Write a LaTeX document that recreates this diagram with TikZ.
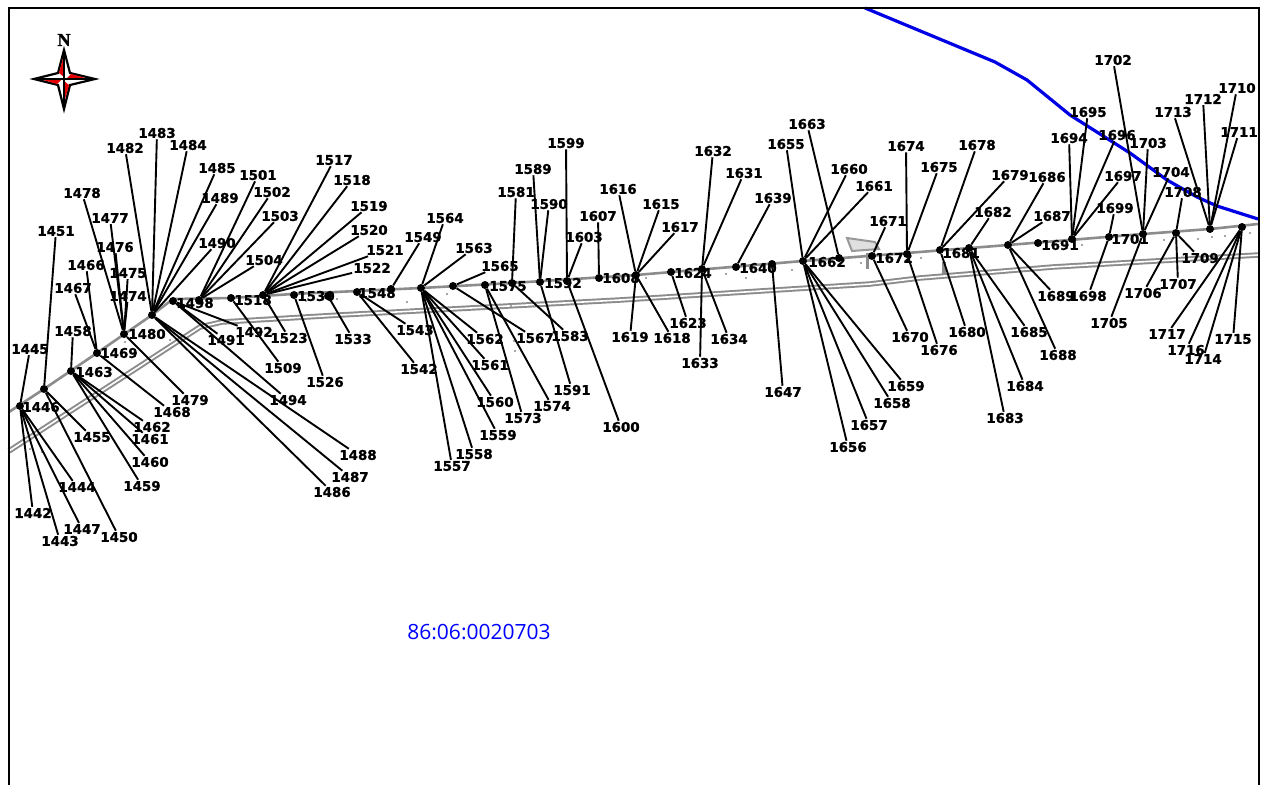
\documentclass[tikz,border=0pt]{standalone}
\usepackage{fontspec}
\setmainfont{DejaVu Sans}[BoldFeatures={FakeBold=1.2}]
\newfontfamily\parcelfont{Open Sans}
\newfontfamily\northfont{Liberation Serif}[BoldFeatures={FakeBold=1.5}]
\colorlet{roadc}{black!45}
\colorlet{buildc}{black!12}
\colorlet{riverc}{blue!90!black}
\colorlet{starc}{red!90!black}
\tikzset{
  lab/.style={font=\bfseries\fontsize{13.4}{14}\selectfont,inner sep=1pt,text=black},
  pointdot/.style={shape=circle,fill=black,minimum size=8pt,inner sep=0pt},
  leader/.style={draw=black,line width=1.9pt},
  speck/.style={fill=black!35,shape=rectangle,minimum size=2.5pt,inner sep=0pt}
}
\begin{document}
\begin{tikzpicture}[x=1pt,y=-1pt]
\useasboundingbox (0,0) rectangle (1266,785);
\fill[white] (0,0) rectangle (1266,785);

\draw[roadc,line width=5.5pt] (9,451) -- (140,366) -- (200,327) -- (222,322) -- (340,315) -- (620,300) -- (870,284) -- (920,278) -- (1053,267) -- (1258,255);
\draw[white,line width=1.6pt] (9,451) -- (140,366) -- (200,327) -- (222,322) -- (340,315) -- (620,300) -- (870,284) -- (920,278) -- (1053,267) -- (1258,255);
\draw[roadc,line width=2.6pt] (9,412) -- (44,389) -- (97,353) -- (152,315) -- (173,299) -- (231,298) -- (293,294) -- (421,288) -- (512,283) -- (636,275) -- (803,261) -- (907,253) -- (1008,245) -- (1143,234) -- (1210,229) -- (1258,224);
\draw[black!40,line width=2pt,fill=buildc] (847,238) -- (875,242) -- (879,249) -- (852,251) -- cycle;
\draw[roadc,line width=3pt] (867,253) -- (867,269);
\draw[roadc,line width=3.5pt] (944,262) -- (944,275);
\node[speck] at (170,340) {}; \node[speck] at (125,342) {}; \node[speck] at (306,301) {}; \node[speck] at (337,299) {};
\node[speck] at (407,302) {}; \node[speck] at (408,310) {}; \node[speck] at (447,294) {}; \node[speck] at (511,306) {};
\node[speck] at (514,341) {}; \node[speck] at (515,351) {}; \node[speck] at (646,278) {}; \node[speck] at (726,274) {};
\node[speck] at (746,278) {}; \node[speck] at (792,270) {}; \node[speck] at (861,263) {}; \node[speck] at (921,258) {};
\node[speck] at (1082,245) {}; \node[speck] at (1164,240) {}; \node[speck] at (1198,239) {}; \node[speck] at (1212,237) {};
\node[speck] at (1225,236) {}; \node[speck] at (1250,233) {}; \node[speck] at (30,449) {}; \node[speck] at (42,452) {};

\draw[riverc,line width=3.2pt] (865,8) -- (995,62) -- (1027,80) -- (1070,115) -- (1130,153) -- (1167,180) -- (1197,197) -- (1217,206) -- (1258,219);
\draw[black,line width=1.4pt] (9,785) -- (9,8) -- (1259,8) -- (1259,785);

\node[pointdot] (p1446) at (20,406) {};
\node[pointdot] (d44) at (44,389) {};
\node[pointdot] (p1463) at (71,371) {};
\node[pointdot] (p1469) at (97,353) {};
\node[pointdot] (p1480) at (124,334) {};
\node[pointdot] (d152) at (152,315) {};
\node[pointdot] (p1498) at (173,301) {};
\node[pointdot] (d199) at (199,300) {};
\node[pointdot] (p1518) at (231,298) {};
\node[pointdot] (d263) at (263,295) {};
\node[pointdot] (p1530) at (294,295) {};
\node[pointdot] (d328) at (328,296) {};
\node[pointdot] (p1548) at (357,292) {};
\node[pointdot] (d391) at (391,289) {};
\node[pointdot] (d421) at (421,288) {};
\node[pointdot] (d453) at (453,286) {};
\node[pointdot] (p1575) at (485,285) {};
\node[pointdot] (d512) at (512,283) {};
\node[pointdot] (p1592) at (540,282) {};
\node[pointdot] (d567) at (567,281) {};
\node[pointdot] (p1608) at (599,278) {};
\node[pointdot] (d636) at (636,275) {};
\node[pointdot] (p1624) at (671,272) {};
\node[pointdot] (d702) at (702,269) {};
\node[pointdot] (p1640) at (736,267) {};
\node[pointdot] (d772) at (772,264) {};
\node[pointdot] (p1662) at (803,261) {};
\node[pointdot] (d838) at (839,258) {};
\node[pointdot] (p1672) at (872,256) {};
\node[pointdot] (d907) at (907,254) {};
\node[pointdot] (p1681) at (940,250) {};
\node[pointdot] (d969) at (969,248) {};
\node[pointdot] (d1008) at (1008,245) {};
\node[pointdot] (p1691) at (1038,243) {};
\node[pointdot] (d1072) at (1072,239) {};
\node[pointdot] (p1701) at (1109,237) {};
\node[pointdot] (d1143) at (1143,234) {};
\node[pointdot] (d1176) at (1176,233) {};
\node[pointdot] (d1210) at (1210,229) {};
\node[pointdot] (d1242) at (1242,227) {};

\node[lab] at (41,407) {1446};
\node[lab] at (94,372) {1463};
\node[lab] at (119,353) {1469};
\node[lab] at (147,334) {1480};
\node[lab] at (195,303) {1498};
\node[lab] at (253,300) {1518};
\node[lab] at (316,296) {1530};
\node[lab] at (377,293) {1548};
\node[lab] at (508,286) {1575};
\node[lab] at (563,283) {1592};
\node[lab] at (621,278) {1608};
\node[lab] at (693,273) {1624};
\node[lab] at (758,268) {1640};
\node[lab] at (827,262) {1662};
\node[lab] at (894,258) {1672};
\node[lab] at (961,253) {1681};
\node[lab] at (1060,245) {1691};
\node[lab] at (1130,239) {1701};

\node[lab] (l1445) at (30,349) {1445}; \draw[leader] (p1446) -- (l1445);
\node[lab] (l1442) at (33,513) {1442}; \draw[leader] (p1446) -- (l1442);
\node[lab] (l1443) at (60,541) {1443}; \draw[leader] (p1446) -- (l1443);
\node[lab] (l1447) at (82,529) {1447}; \draw[leader] (p1446) -- (l1447);
\node[lab] (l1444) at (77,487) {1444}; \draw[leader] (p1446) -- (l1444);
\node[lab] (l1451) at (56,231) {1451}; \draw[leader] (d44) -- (l1451);
\node[lab] (l1455) at (92,437) {1455}; \draw[leader] (d44) -- (l1455);
\node[lab] (l1450) at (119,537) {1450}; \draw[leader] (d44) -- (l1450);
\node[lab] (l1458) at (73,331) {1458}; \draw[leader] (p1463) -- (l1458);
\node[lab] (l1462) at (152,427) {1462}; \draw[leader] (p1463) -- (l1462);
\node[lab] (l1461) at (150,439) {1461}; \draw[leader] (p1463) -- (l1461);
\node[lab] (l1460) at (150,462) {1460}; \draw[leader] (p1463) -- (l1460);
\node[lab] (l1459) at (142,486) {1459}; \draw[leader] (p1463) -- (l1459);
\node[lab] (l1466) at (86,265) {1466}; \draw[leader] (p1469) -- (l1466);
\node[lab] (l1467) at (73,288) {1467}; \draw[leader] (p1469) -- (l1467);
\node[lab] (l1468) at (172,412) {1468}; \draw[leader] (p1469) -- (l1468);
\node[lab] (l1478) at (82,193) {1478}; \draw[leader] (p1480) -- (l1478);
\node[lab] (l1477) at (110,218) {1477}; \draw[leader] (p1480) -- (l1477);
\node[lab] (l1476) at (115,247) {1476}; \draw[leader] (p1480) -- (l1476);
\node[lab] (l1475) at (128,273) {1475}; \draw[leader] (p1480) -- (l1475);
\node[lab] (l1474) at (128,296) {1474}; \draw[leader] (p1480) -- (l1474);
\node[lab] (l1479) at (190,400) {1479}; \draw[leader] (p1480) -- (l1479);
\node[lab] (l1482) at (125,148) {1482}; \draw[leader] (d152) -- (l1482);
\node[lab] (l1483) at (157,133) {1483}; \draw[leader] (d152) -- (l1483);
\node[lab] (l1484) at (188,145) {1484}; \draw[leader] (d152) -- (l1484);
\node[lab] (l1485) at (217,168) {1485}; \draw[leader] (d152) -- (l1485);
\node[lab] (l1489) at (220,198) {1489}; \draw[leader] (d152) -- (l1489);
\node[lab] (l1490) at (217,243) {1490}; \draw[leader] (d152) -- (l1490);
\node[lab] (l1486) at (332,492) {1486}; \draw[leader] (d152) -- (l1486);
\node[lab] (l1487) at (350,477) {1487}; \draw[leader] (d152) -- (l1487);
\node[lab] (l1488) at (358,455) {1488}; \draw[leader] (d152) -- (l1488);
\node[lab] (l1491) at (226,340) {1491}; \draw[leader] (p1498) -- (l1491);
\node[lab] (l1492) at (254,332) {1492}; \draw[leader] (p1498) -- (l1492);
\node[lab] (l1494) at (288,400) {1494}; \draw[leader] (p1498) -- (l1494);
\node[lab] (l1501) at (258,175) {1501}; \draw[leader] (d199) -- (l1501);
\node[lab] (l1502) at (272,192) {1502}; \draw[leader] (d199) -- (l1502);
\node[lab] (l1503) at (280,216) {1503}; \draw[leader] (d199) -- (l1503);
\node[lab] (l1504) at (264,260) {1504}; \draw[leader] (d199) -- (l1504);
\node[lab] (l1509) at (283,368) {1509}; \draw[leader] (p1518) -- (l1509);
\node[lab] (l1517) at (334,160) {1517}; \draw[leader] (d263) -- (l1517);
\node[lab] (l1518) at (352,180) {1518}; \draw[leader] (d263) -- (l1518);
\node[lab] (l1519) at (369,206) {1519}; \draw[leader] (d263) -- (l1519);
\node[lab] (l1520) at (369,230) {1520}; \draw[leader] (d263) -- (l1520);
\node[lab] (l1521) at (385,250) {1521}; \draw[leader] (d263) -- (l1521);
\node[lab] (l1522) at (372,268) {1522}; \draw[leader] (d263) -- (l1522);
\node[lab] (l1523) at (289,338) {1523}; \draw[leader] (d263) -- (l1523);
\node[lab] (l1526) at (325,382) {1526}; \draw[leader] (p1530) -- (l1526);
\node[lab] (l1533) at (353,339) {1533}; \draw[leader] (d328) -- (l1533);
\node[lab] (l1543) at (415,330) {1543}; \draw[leader] (p1548) -- (l1543);
\node[lab] (l1542) at (419,369) {1542}; \draw[leader] (p1548) -- (l1542);
\node[lab] (l1549) at (423,237) {1549}; \draw[leader] (d391) -- (l1549);
\node[lab] (l1564) at (445,218) {1564}; \draw[leader] (d421) -- (l1564);
\node[lab] (l1563) at (474,248) {1563}; \draw[leader] (d421) -- (l1563);
\node[lab] (l1562) at (485,339) {1562}; \draw[leader] (d421) -- (l1562);
\node[lab] (l1561) at (490,365) {1561}; \draw[leader] (d421) -- (l1561);
\node[lab] (l1560) at (495,402) {1560}; \draw[leader] (d421) -- (l1560);
\node[lab] (l1559) at (498,435) {1559}; \draw[leader] (d421) -- (l1559);
\node[lab] (l1558) at (474,454) {1558}; \draw[leader] (d421) -- (l1558);
\node[lab] (l1557) at (452,466) {1557}; \draw[leader] (d421) -- (l1557);
\node[lab] (l1565) at (500,266) {1565}; \draw[leader] (d453) -- (l1565);
\node[lab] (l1567) at (535,338) {1567}; \draw[leader] (d453) -- (l1567);
\node[lab] (l1573) at (523,418) {1573}; \draw[leader] (p1575) -- (l1573);
\node[lab] (l1574) at (552,406) {1574}; \draw[leader] (p1575) -- (l1574);
\node[lab] (l1581) at (516,192) {1581}; \draw[leader] (d512) -- (l1581);
\node[lab] (l1583) at (570,336) {1583}; \draw[leader] (d512) -- (l1583);
\node[lab] (l1589) at (533,169) {1589}; \draw[leader] (p1592) -- (l1589);
\node[lab] (l1590) at (549,204) {1590}; \draw[leader] (p1592) -- (l1590);
\node[lab] (l1591) at (572,390) {1591}; \draw[leader] (p1592) -- (l1591);
\node[lab] (l1599) at (566,143) {1599}; \draw[leader] (d567) -- (l1599);
\node[lab] (l1603) at (584,237) {1603}; \draw[leader] (d567) -- (l1603);
\node[lab] (l1600) at (621,427) {1600}; \draw[leader] (d567) -- (l1600);
\node[lab] (l1607) at (598,216) {1607}; \draw[leader] (p1608) -- (l1607);
\node[lab] (l1616) at (618,189) {1616}; \draw[leader] (d636) -- (l1616);
\node[lab] (l1615) at (661,204) {1615}; \draw[leader] (d636) -- (l1615);
\node[lab] (l1617) at (680,227) {1617}; \draw[leader] (d636) -- (l1617);
\node[lab] (l1619) at (630,337) {1619}; \draw[leader] (d636) -- (l1619);
\node[lab] (l1618) at (672,338) {1618}; \draw[leader] (d636) -- (l1618);
\node[lab] (l1623) at (688,323) {1623}; \draw[leader] (p1624) -- (l1623);
\node[lab] (l1632) at (713,151) {1632}; \draw[leader] (d702) -- (l1632);
\node[lab] (l1631) at (744,173) {1631}; \draw[leader] (d702) -- (l1631);
\node[lab] (l1633) at (700,363) {1633}; \draw[leader] (d702) -- (l1633);
\node[lab] (l1634) at (729,339) {1634}; \draw[leader] (d702) -- (l1634);
\node[lab] (l1639) at (773,198) {1639}; \draw[leader] (p1640) -- (l1639);
\node[lab] (l1647) at (783,392) {1647}; \draw[leader] (d772) -- (l1647);
\node[lab] (l1655) at (786,144) {1655}; \draw[leader] (p1662) -- (l1655);
\node[lab] (l1660) at (849,169) {1660}; \draw[leader] (p1662) -- (l1660);
\node[lab] (l1661) at (874,186) {1661}; \draw[leader] (p1662) -- (l1661);
\node[lab] (l1659) at (906,386) {1659}; \draw[leader] (p1662) -- (l1659);
\node[lab] (l1658) at (892,403) {1658}; \draw[leader] (p1662) -- (l1658);
\node[lab] (l1657) at (869,425) {1657}; \draw[leader] (p1662) -- (l1657);
\node[lab] (l1656) at (848,447) {1656}; \draw[leader] (p1662) -- (l1656);
\node[lab] (l1663) at (807,124) {1663}; \draw[leader] (d838) -- (l1663);
\node[lab] (l1671) at (888,221) {1671}; \draw[leader] (p1672) -- (l1671);
\node[lab] (l1670) at (910,337) {1670}; \draw[leader] (p1672) -- (l1670);
\node[lab] (l1674) at (906,146) {1674}; \draw[leader] (d907) -- (l1674);
\node[lab] (l1675) at (939,167) {1675}; \draw[leader] (d907) -- (l1675);
\node[lab] (l1676) at (939,350) {1676}; \draw[leader] (d907) -- (l1676);
\node[lab] (l1678) at (977,145) {1678}; \draw[leader] (p1681) -- (l1678);
\node[lab] (l1679) at (1010,175) {1679}; \draw[leader] (p1681) -- (l1679);
\node[lab] (l1680) at (967,332) {1680}; \draw[leader] (p1681) -- (l1680);
\node[lab] (l1682) at (993,212) {1682}; \draw[leader] (d969) -- (l1682);
\node[lab] (l1685) at (1029,332) {1685}; \draw[leader] (d969) -- (l1685);
\node[lab] (l1684) at (1025,386) {1684}; \draw[leader] (d969) -- (l1684);
\node[lab] (l1683) at (1005,418) {1683}; \draw[leader] (d969) -- (l1683);
\node[lab] (l1686) at (1047,177) {1686}; \draw[leader] (d1008) -- (l1686);
\node[lab] (l1687) at (1052,216) {1687}; \draw[leader] (d1008) -- (l1687);
\node[lab] (l1689) at (1056,296) {1689}; \draw[leader] (d1008) -- (l1689);
\node[lab] (l1688) at (1058,355) {1688}; \draw[leader] (d1008) -- (l1688);
\node[lab] (l1694) at (1069,138) {1694}; \draw[leader] (d1072) -- (l1694);
\node[lab] (l1695) at (1088,112) {1695}; \draw[leader] (d1072) -- (l1695);
\node[lab] (l1696) at (1117,135) {1696}; \draw[leader] (d1072) -- (l1696);
\node[lab] (l1697) at (1123,176) {1697}; \draw[leader] (d1072) -- (l1697);
\node[lab] (l1699) at (1115,208) {1699}; \draw[leader] (p1701) -- (l1699);
\node[lab] (l1698) at (1088,296) {1698}; \draw[leader] (p1701) -- (l1698);
\node[lab] (l1702) at (1113,60) {1702}; \draw[leader] (d1143) -- (l1702);
\node[lab] (l1703) at (1148,143) {1703}; \draw[leader] (d1143) -- (l1703);
\node[lab] (l1704) at (1171,172) {1704}; \draw[leader] (d1143) -- (l1704);
\node[lab] (l1705) at (1109,323) {1705}; \draw[leader] (d1143) -- (l1705);
\node[lab] (l1708) at (1183,192) {1708}; \draw[leader] (d1176) -- (l1708);
\node[lab] (l1709) at (1200,258) {1709}; \draw[leader] (d1176) -- (l1709);
\node[lab] (l1707) at (1178,284) {1707}; \draw[leader] (d1176) -- (l1707);
\node[lab] (l1706) at (1143,293) {1706}; \draw[leader] (d1176) -- (l1706);
\node[lab] (l1713) at (1173,112) {1713}; \draw[leader] (d1210) -- (l1713);
\node[lab] (l1712) at (1203,99) {1712}; \draw[leader] (d1210) -- (l1712);
\node[lab] (l1710) at (1237,88) {1710}; \draw[leader] (d1210) -- (l1710);
\node[lab] (l1711) at (1239,132) {1711}; \draw[leader] (d1210) -- (l1711);
\node[lab] (l1717) at (1167,334) {1717}; \draw[leader] (d1242) -- (l1717);
\node[lab] (l1716) at (1186,350) {1716}; \draw[leader] (d1242) -- (l1716);
\node[lab] (l1714) at (1203,359) {1714}; \draw[leader] (d1242) -- (l1714);
\node[lab] (l1715) at (1233,339) {1715}; \draw[leader] (d1242) -- (l1715);

\node[text=blue,font=\parcelfont\fontsize{21}{23}\selectfont] (parcel) at (479,632) {86:06:0020703};

\node[font=\northfont\bfseries\fontsize{18}{19}\selectfont,inner sep=0pt] (north) at (64,40) {N};
\filldraw[fill=white,draw=black,line width=2.2pt,line join=miter] (64,50) -- (70,73) -- (95,79) -- (70,85) -- (64,109) -- (58,85) -- (34,79) -- (58,73) -- cycle;
\fill[starc] (64,55) -- (64,77) -- (59,73) -- cycle;
\fill[starc] (89,79) -- (66,79) -- (71,74) -- cycle;
\fill[starc] (64,103) -- (64,81) -- (69,85) -- cycle;
\fill[starc] (40,79) -- (62,79) -- (57,84) -- cycle;
\draw[black,line width=1.2pt] (64,50) -- (64,109);
\draw[black,line width=1.2pt] (34,79) -- (95,79);
\end{tikzpicture}
\end{document}
